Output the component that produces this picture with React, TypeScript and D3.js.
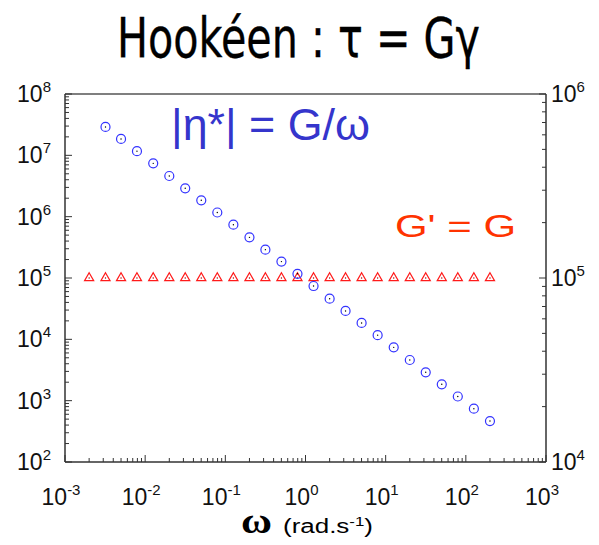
import React from "react"
import * as d3 from "d3"

// omega (rad/s) sampled at 5 points per decade
const omegaG = [0.0020, 0.0032, 0.0050, 0.0079, 0.0126, 0.0200, 0.0316, 0.0501, 0.0794, 0.126, 0.200, 0.316, 0.501, 0.794, 1.26, 2.00, 3.16, 5.01, 7.94, 12.6, 20.0, 31.6, 50.1, 79.4, 126, 200]
const gPrime = [1e5, 1e5, 1e5, 1e5, 1e5, 1e5, 1e5, 1e5, 1e5, 1e5, 1e5, 1e5, 1e5, 1e5, 1e5, 1e5, 1e5, 1e5, 1e5, 1e5, 1e5, 1e5, 1e5, 1e5, 1e5, 1e5]
const omegaEta = [0.0032, 0.0050, 0.0079, 0.0126, 0.0200, 0.0316, 0.0501, 0.0794, 0.126, 0.200, 0.316, 0.501, 0.794, 1.26, 2.00, 3.16, 5.01, 7.94, 12.6, 20.0, 31.6, 50.1, 79.4, 126, 200]
const etaStar = [2.9e7, 1.85e7, 1.17e7, 7.4e6, 4.6e6, 2.9e6, 1.85e6, 1.17e6, 7.4e5, 4.6e5, 2.9e5, 1.85e5, 1.17e5, 7.4e4, 4.6e4, 2.9e4, 1.85e4, 1.17e4, 7.4e3, 4.6e3, 2.9e3, 1.85e3, 1.17e3, 740, 465]

const xDomain = [1e-3, 1e3]
const yLeftDomain = [1e2, 1e8]
const yRightDomain = [1e4, 1e6]

const W = 599
const H = 545
const plot = { left: 65, right: 546, top: 94, bottom: 462 }

const tickFont = "'Liberation Sans', Arial, sans-serif"
const axisColor = "#333"

function isMajor(v: number) {
  const l = Math.log10(v)
  return Math.abs(l - Math.round(l)) < 1e-6
}

function Pow({ v, ...rest }: { v: number } & React.SVGProps<SVGTextElement>) {
  const e = Math.round(Math.log10(v))
  return (
    <text {...rest} fontFamily={tickFont} fontSize={23} fill="#111">
      10<tspan fontSize={15} dy={-10}>{e}</tspan>
    </text>
  )
}

export default function App() {
  const x = d3.scaleLog().domain(xDomain).range([plot.left, plot.right])
  const yL = d3.scaleLog().domain(yLeftDomain).range([plot.bottom, plot.top])
  const yR = d3.scaleLog().domain(yRightDomain).range([plot.bottom, plot.top])

  const xTicks = x.ticks()
  const yLTicks = yL.ticks()
  const yRTicks = yR.ticks()

  const tri = d3.symbol().type(d3.symbolTriangle).size(36)()

  return (
    <svg width={W} height={H} style={{ position: "absolute", left: 0, top: 0, background: "#fff" }}>
      {/* title */}
      <text transform="translate(117,57) scale(1,1.2)" fontFamily="'DejaVu Sans', sans-serif" fontSize={46} textLength={363}
        lengthAdjust="spacingAndGlyphs" fill="#000" stroke="#000" strokeWidth={0.3}>
        Hookéen : τ = Gγ
      </text>

      {/* frame */}
      <line x1={plot.left} x2={plot.right} y1={plot.top} y2={plot.top} stroke="#000" strokeWidth={1.2} />
      <line x1={plot.left} x2={plot.left} y1={plot.top} y2={plot.bottom} stroke={axisColor} strokeWidth={1.5} />
      <line x1={plot.right} x2={plot.right} y1={plot.top} y2={plot.bottom} stroke={axisColor} strokeWidth={1.5} />
      <line x1={plot.left} x2={plot.right} y1={plot.bottom} y2={plot.bottom} stroke={axisColor} strokeWidth={1.5} />

      {/* bottom ticks */}
      {xTicks.map((t, i) => {
        const len = isMajor(t) ? 7 : 4
        return <line key={"xt" + i} x1={x(t)} x2={x(t)} y1={plot.bottom} y2={plot.bottom - len} stroke={axisColor} strokeWidth={1} />
      })}
      {xTicks.filter(isMajor).map((t, i) => (
        <Pow key={"xl" + i} v={t} x={x(t) - 4} y={505} textAnchor="middle" />
      ))}

      {/* left ticks */}
      {yLTicks.map((t, i) => {
        const len = isMajor(t) ? 7 : 4
        return <line key={"ylt" + i} x1={plot.left} x2={plot.left + len} y1={yL(t)} y2={yL(t)} stroke={axisColor} strokeWidth={1} />
      })}
      {yLTicks.filter(isMajor).map((t, i) => (
        <Pow key={"yll" + i} v={t} x={51} y={yL(t) + 8} textAnchor="end" />
      ))}

      {/* right ticks */}
      {yRTicks.map((t, i) => {
        const len = isMajor(t) ? 7 : 4
        return <line key={"yrt" + i} x1={plot.right} x2={plot.right - len} y1={yR(t)} y2={yR(t)} stroke={axisColor} strokeWidth={1} />
      })}
      {yRTicks.filter(isMajor).map((t, i) => (
        <Pow key={"yrl" + i} v={t} x={551} y={yR(t) + 8} textAnchor="start" />
      ))}

      {/* G' triangles */}
      {omegaG.map((w, i) => (
        <g key={"g" + i} transform={`translate(${x(w)},${yL(gPrime[i])})`}>
          <path d={tri!} fill="none" stroke="#ff1a1a" strokeWidth={1.2} />
          <circle r={0.7} fill="#a00" />
        </g>
      ))}

      {/* |eta*| circles */}
      {omegaEta.map((w, i) => (
        <g key={"e" + i} transform={`translate(${x(w)},${yL(etaStar[i])})`}>
          <circle r={4.5} fill="none" stroke="#3333ff" strokeWidth={1.2} />
          <circle r={0.7} fill="#000" />
        </g>
      ))}

      {/* annotations */}
      <text x={171} y={140} fontFamily={tickFont} fontSize={44} fill="#3535cc" textLength={199} lengthAdjust="spacingAndGlyphs">
        |η*| = G/ω
      </text>
      <text x={395} y={237} fontFamily={tickFont} fontSize={31} fill="#ff3300" textLength={121} lengthAdjust="spacingAndGlyphs">
        G' = G
      </text>

      {/* x axis title */}
      <text x={241} y={533} fontFamily="'Liberation Serif', 'DejaVu Serif', serif" fontWeight="bold" fontSize={36}
        textLength={31} lengthAdjust="spacingAndGlyphs" fill="#000">ω</text>
      <text x={283} y={533} fontFamily={tickFont} fontSize={20} fill="#000" textLength={90} lengthAdjust="spacingAndGlyphs">
        (rad.s<tspan fontSize={13} dy={-7}>-1</tspan><tspan dy={7}>)</tspan>
      </text>
    </svg>
  )
}
